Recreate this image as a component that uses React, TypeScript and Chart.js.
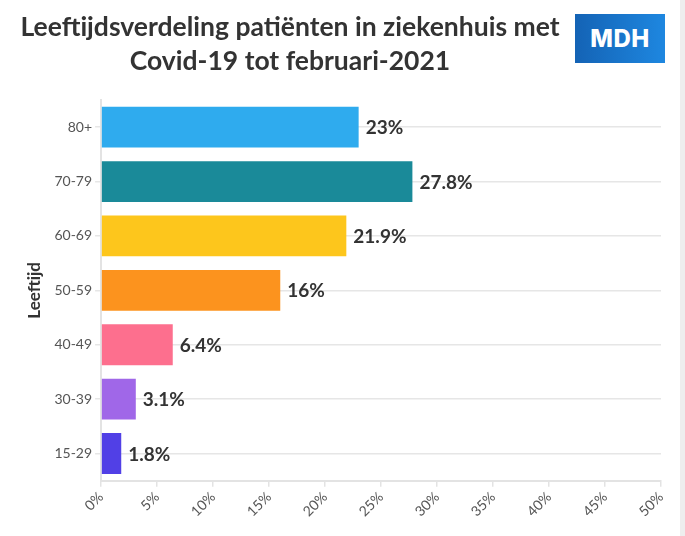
import React, { useEffect, useRef } from "react";
import { Chart, registerables } from "chart.js";

Chart.register(...registerables);

const categories = ["80+", "70-79", "60-69", "50-59", "40-49", "30-39", "15-29"];
const values = [23, 27.8, 21.9, 16, 6.4, 3.1, 1.8];
const valueLabels = ["23%", "27.8%", "21.9%", "16%", "6.4%", "3.1%", "1.8%"];
const barColors = ["#2fabee", "#1a8a99", "#fdc61c", "#fc931e", "#fd6f8e", "#a067e8", "#5140e6"];
const titleLines = ["Leeftijdsverdeling patiënten in ziekenhuis met", "Covid-19 tot februari-2021"];
const yAxisTitle = "Leeftijd";

const FONT = "Lato, 'Open Sans', sans-serif";

const valueLabelPlugin = {
  id: "valueLabels",
  afterDatasetsDraw(chart: any) {
    const ctx = chart.ctx;
    const meta = chart.getDatasetMeta(0);
    ctx.save();
    ctx.font = `bold 19px ${FONT}`;
    ctx.fillStyle = "#333333";
    ctx.textAlign = "left";
    ctx.textBaseline = "middle";
    meta.data.forEach((el: any, i: number) => {
      ctx.fillText(valueLabels[i], el.x + 7, el.y + 1);
    });
    ctx.restore();
  },
};

export default function App() {
  const ref = useRef<HTMLCanvasElement | null>(null);

  useEffect(() => {
    document.body.style.margin = "0";
    if (!ref.current) return;
    const chart = new Chart(ref.current, {
      type: "bar",
      data: {
        labels: categories,
        datasets: [
          {
            data: values,
            backgroundColor: barColors,
            borderWidth: 0,
            categoryPercentage: 1,
            barPercentage: 0.75,
          },
        ],
      },
      options: {
        indexAxis: "y",
        animation: false,
        responsive: false,
        maintainAspectRatio: false,
        layout: { padding: { top: 100, right: 19, left: 24, bottom: 14 } },
        plugins: {
          legend: { display: false },
          tooltip: { enabled: false },
          title: { display: false },
        },
        scales: {
          x: {
            min: 0,
            max: 50,
            ticks: {
              stepSize: 5,
              minRotation: 45,
              maxRotation: 45,
              color: "#555555",
              font: { family: FONT, size: 14 },
              padding: 2,
              callback: (v: any) => v + "%",
            },
            grid: {
              drawOnChartArea: false,
              drawTicks: true,
              tickLength: 6,
              color: "#e3e3e3",
              lineWidth: 1.5,
            },
            border: { color: "#e3e3e3", width: 2 },
          },
          y: {
            ticks: {
              color: "#555555",
              font: { family: FONT, size: 14 },
              padding: 3,
            },
            grid: {
              offset: false,
              color: "#e6e6e6",
              lineWidth: 1.5,
              tickLength: 6,
            },
            border: { color: "#e3e3e3", width: 2 },
            title: {
              display: true,
              text: yAxisTitle,
              color: "#333333",
              font: { family: FONT, size: 17, weight: "bold" },
              padding: { top: 0, bottom: 7 },
            },
          },
        },
      },
      plugins: [valueLabelPlugin],
    });
    return () => chart.destroy();
  }, []);

  return (
    <div style={{ position: "relative", width: 685, height: 536, background: "#ffffff", overflow: "hidden" }}>
      <canvas ref={ref} width={680} height={536} style={{ position: "absolute", left: 0, top: 0 }} />
      <div
        style={{
          position: "absolute",
          left: 0,
          top: 9,
          width: 580,
          textAlign: "center",
          fontFamily: FONT,
          fontWeight: 700,
          fontSize: 26.5,
          lineHeight: "34px",
          color: "#333333",
        }}
      >
        <div>{titleLines[0]}</div>
        <div>{titleLines[1]}</div>
      </div>
      <div
        style={{
          position: "absolute",
          left: 575,
          top: 14,
          width: 90,
          height: 49,
          background: "linear-gradient(to right, #1463b5, #1e87e0)",
          color: "#ffffff",
          fontFamily: "Inter, sans-serif",
          fontWeight: 800,
          fontSize: 24,
          display: "flex",
          alignItems: "center",
          justifyContent: "center",
          letterSpacing: 0.5,
        }}
      >
        MDH
      </div>
      <div style={{ position: "absolute", left: 680, top: 0, width: 5, height: 536, background: "#eeeeee" }} />
    </div>
  );
}
